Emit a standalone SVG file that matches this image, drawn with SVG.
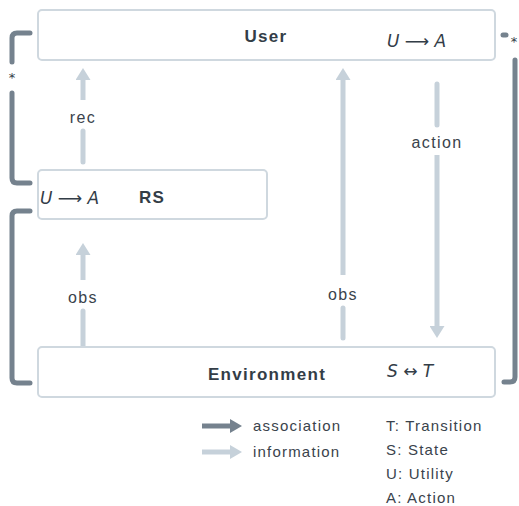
<svg xmlns="http://www.w3.org/2000/svg" width="519" height="506" viewBox="0 0 519 506">
<defs>
<style>
.box{fill:#fff;stroke:#cfd8df;stroke-width:2}
.info{fill:none;stroke:#c6d1da;stroke-width:5;stroke-linecap:round}
.infoh{fill:none;stroke:#c6d1da;stroke-width:5;stroke-linecap:butt}
.assoc{fill:none;stroke:#75828e;stroke-width:5;stroke-linecap:round;stroke-linejoin:round}
.t{font-family:"Liberation Sans",Arial,sans-serif;fill:#333d47}
.title{font-weight:bold;font-size:17px;letter-spacing:1.3px;text-anchor:middle}
.lbl{font-size:16px;letter-spacing:1.4px;text-anchor:middle;fill:#3a434c}
.leg{font-size:15px;letter-spacing:1.2px;fill:#3a434c}
.math{font-family:"DejaVu Sans","Liberation Sans",sans-serif;font-style:italic;font-size:17px;fill:#333d47}
.star{font-family:"DejaVu Sans",sans-serif;font-size:13px;fill:#333d47;text-anchor:middle}
</style>
<marker id="hl" markerUnits="userSpaceOnUse" markerWidth="12" markerHeight="15" refX="0" refY="7.5" orient="auto"><path d="M0,0 L12,7.5 L0,15 z" fill="#c6d1da"/></marker>
</defs>
<rect width="519" height="506" fill="#fff"/>
<g id="connectors">
<line class="info" x1="83" y1="162" x2="83" y2="131"/>
<line class="infoh" x1="83" y1="100" x2="83" y2="80" marker-end="url(#hl)"/>
<line class="info" x1="83" y1="346" x2="83" y2="311"/>
<line class="infoh" x1="83" y1="280" x2="83" y2="255" marker-end="url(#hl)"/>
<line class="info" x1="343" y1="338" x2="343" y2="308"/>
<line class="infoh" x1="343" y1="275" x2="343" y2="80" marker-end="url(#hl)"/>
<line class="info" x1="437" y1="84" x2="437" y2="125"/>
<line class="infoh" x1="437" y1="155" x2="437" y2="326" marker-end="url(#hl)"/>
<path class="assoc" d="M30,33 H17 Q12,33 12,38 V62"/>
<path class="assoc" d="M12,93 V178 Q12,183 17,183 H30"/>
<path class="assoc" d="M30,211 H17 Q12,211 12,216 V378 Q12,383 17,383 H30"/>
<path class="assoc" d="M503,35 H506"/>
<path class="assoc" d="M515,60 V377 Q515,382 510,382 H504"/>
<text class="star" x="12" y="82">*</text>
<text class="star" x="514" y="46">*</text>
<text class="t lbl" x="83" y="123">rec</text>
<text class="t lbl" x="83" y="303">obs</text>
<text class="t lbl" x="343" y="300">obs</text>
<text class="t lbl" x="437" y="148">action</text>
</g>
<g id="user">
<rect class="box" x="38" y="10" width="457" height="50" rx="4"/>
<text class="t title" x="266" y="42">User</text>
<text class="math" x="387" y="47">U ⟶ A</text>
</g>
<g id="rs">
<rect class="box" x="38" y="170" width="229" height="49" rx="4"/>
<text class="t title" x="152" y="203">RS</text>
<text class="math" x="40" y="204">U ⟶ A</text>
</g>
<g id="environment">
<rect class="box" x="38" y="347" width="457" height="50" rx="4"/>
<text class="t title" x="267" y="380">Environment</text>
<text class="math" x="387" y="377">S ↔ T</text>
</g>
<g id="legend">
<line class="assoc" x1="202" y1="426" x2="230" y2="426" style="stroke-linecap:butt"/>
<path d="M230,419 L242,426 L230,433 z" fill="#75828e"/>
<line class="info" x1="202" y1="452" x2="230" y2="452" style="stroke-linecap:butt"/>
<path d="M230,445 L242,452 L230,459 z" fill="#c6d1da"/>
<text class="t leg" x="253" y="431">association</text>
<text class="t leg" x="253" y="457">information</text>
<text class="t leg" x="386" y="431">T: Transition</text>
<text class="t leg" x="386" y="455">S: State</text>
<text class="t leg" x="386" y="479">U: Utility</text>
<text class="t leg" x="386" y="503">A: Action</text>
</g>
</svg>
